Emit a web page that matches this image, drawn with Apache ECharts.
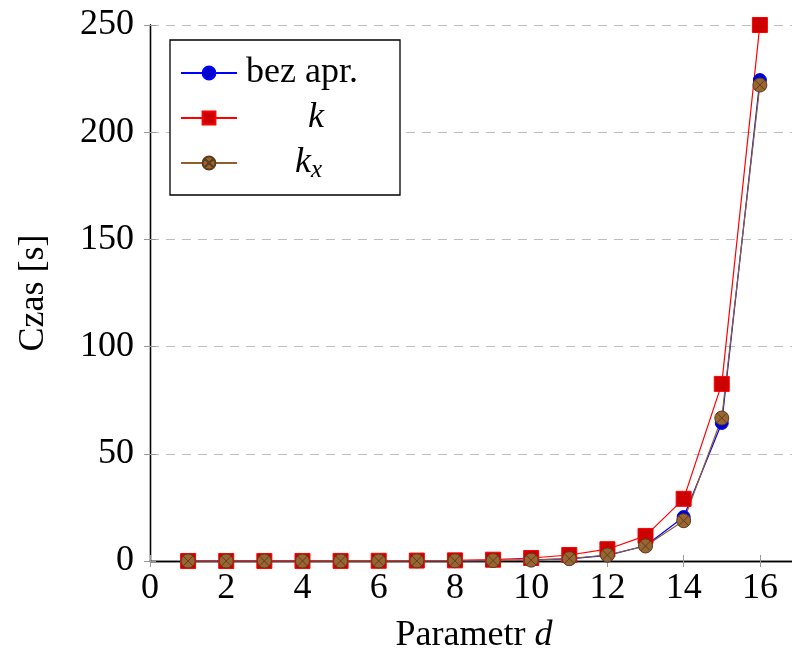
<!DOCTYPE html>
<html>
<head>
<meta charset="utf-8">
<script src="https://cdn.jsdelivr.net/npm/echarts@6/dist/echarts.min.js"></script>
<style>
  html, body { margin: 0; padding: 0; background: #fff; }
  #chart { width: 792px; height: 656px; }
</style>
</head>
<body>
<div id="chart"></div>
<script>
var dom = document.getElementById("chart");
var myChart;

// parametr d
var params = [1, 2, 3, 4, 5, 6, 7, 8, 9, 10, 11, 12, 13, 14, 15, 16];
// czas [s]
var bezApr = [0.01, 0.01, 0.01, 0.01, 0.01, 0.02, 0.05, 0.1, 0.2, 0.5, 1.0, 2.6, 7.1, 20.5, 64.4, 224.3];
var kVals  = [0.01, 0.01, 0.02, 0.03, 0.05, 0.1, 0.2, 0.3, 0.6, 1.4, 2.8, 5.5, 11.7, 29.0, 82.6, 250.0];
var kxVals = [0.01, 0.01, 0.01, 0.01, 0.02, 0.03, 0.06, 0.1, 0.2, 0.4, 1.1, 2.8, 7.0, 18.8, 66.7, 222.0];
var xTicks = [0, 2, 4, 6, 8, 10, 12, 14, 16];
var yTicks = [0, 50, 100, 150, 200, 250];

var serif = "'Liberation Serif', 'DejaVu Serif', serif";
var otimes = 'path://M0,10A10,10,0,1,1,20,10A10,10,0,1,1,0,10ZM2.93,2.93L17.07,17.07M17.07,2.93L2.93,17.07';

function pairs(ys) {
    return params.map(function (x, i) { return [x, ys[i]]; });
}

function initChart() {
    var option = {
        backgroundColor: '#ffffff',
        animation: false,
        grid: { left: 150, right: -6, top: 25, bottom: 95, outerBoundsMode: 'none', containLabel: false },
        legend: {
            orient: 'vertical',
            left: 170,
            top: 40,
            padding: [15, 10, 12, 10],
            itemGap: 9,
            itemWidth: 56,
            itemHeight: 16,
            borderColor: '#000',
            borderWidth: 1.3,
            backgroundColor: '#fff',
            textStyle: {
                fontFamily: serif,
                fontSize: 36,
                color: '#000',
                rich: {
                    t: { fontFamily: serif, fontSize: 36, lineHeight: 36, width: 144, align: 'left', padding: [0, 0, 0, 4] },
                    ti: { fontFamily: serif, fontSize: 36, lineHeight: 36, width: 148, align: 'center', fontStyle: 'italic' },
                    padl: { width: 53, lineHeight: 36 },
                    padr: { width: 61, lineHeight: 36 },
                    i: { fontFamily: serif, fontSize: 36, lineHeight: 36, fontStyle: 'italic' },
                    sub: { fontFamily: serif, fontSize: 25, fontStyle: 'italic', padding: [15, 0, 0, 0] }
                }
            },
            formatter: function (name) {
                if (name === 'k') return '{ti|k}';
                if (name === 'kx') return '{padl|}{i|k}{sub|x}{padr|}';
                return '{t|' + name + '}';
            },
            data: ['bez apr.', 'k', 'kx']
        },
        xAxis: [{
            type: 'value',
            min: 0,
            max: 17,
            interval: 2,
            name: 'Parametr {i|d}',
            nameLocation: 'middle',
            nameGap: 57,
            nameTextStyle: {
                fontFamily: serif, fontSize: 36, color: '#000',
                rich: { i: { fontFamily: serif, fontSize: 36, fontStyle: 'italic', color: '#000' } }
            },
            axisLine: { lineStyle: { color: '#000', width: 1.3 } },
            axisTick: { inside: true, length: 6, lineStyle: { color: '#999', width: 1 } },
            axisLabel: {
                fontFamily: serif, fontSize: 36, color: '#000', margin: 10,
                formatter: function (v) { return xTicks.indexOf(v) >= 0 ? String(v) : ''; }
            },
            splitLine: { show: false }
        }, {
            type: 'value',
            position: 'top',
            min: 0,
            max: 17,
            interval: 2,
            axisLine: { show: true, lineStyle: { color: '#000', width: 1.3 } },
            axisTick: { inside: true, length: 6, lineStyle: { color: '#999', width: 1 } },
            axisLabel: { show: false },
            splitLine: { show: false }
        }],
        yAxis: [{
            type: 'value',
            min: 0,
            max: 250,
            interval: 50,
            name: 'Czas [s]',
            nameLocation: 'middle',
            nameRotate: 90,
            nameGap: 98,
            nameTextStyle: { fontFamily: serif, fontSize: 36, color: '#000' },
            axisLine: { show: true, lineStyle: { color: '#000', width: 1.3 } },
            axisTick: { inside: true, length: 6, lineStyle: { color: '#999', width: 1 } },
            axisLabel: {
                fontFamily: serif, fontSize: 36, color: '#000', margin: 16,
                formatter: function (v) { return yTicks.indexOf(v) >= 0 ? String(v) : ''; }
            },
            splitLine: { show: true, lineStyle: { color: '#bdbdbd', width: 1, type: [9, 7] } }
        }, {
            type: 'value',
            position: 'right',
            min: 0,
            max: 250,
            interval: 50,
            axisLine: { show: true, lineStyle: { color: '#000', width: 1.3 } },
            axisTick: { inside: true, length: 6, lineStyle: { color: '#999', width: 1 } },
            axisLabel: { show: false },
            splitLine: { show: false }
        }],
        series: [
            {
                name: 'bez apr.',
                type: 'line',
                data: pairs(bezApr),
                clip: false,
                symbol: 'circle',
                symbolSize: 13,
                lineStyle: { color: '#0000ff', width: 1.2 },
                itemStyle: { color: '#0000cc', borderColor: '#0000ff', borderWidth: 1 }
            },
            {
                name: 'k',
                type: 'line',
                data: pairs(kVals),
                clip: false,
                symbol: 'rect',
                symbolSize: 15,
                lineStyle: { color: '#ff0000', width: 1.2 },
                itemStyle: { color: '#cc0000', borderColor: '#ff0000', borderWidth: 1 }
            },
            {
                name: 'kx',
                type: 'line',
                data: pairs(kxVals),
                clip: false,
                symbol: otimes,
                symbolSize: 14,
                lineStyle: { color: '#8f5f30', width: 1.2 },
                itemStyle: { color: '#996633', borderColor: '#5e3d1c', borderWidth: 1 }
            }
        ]
    };

    myChart = echarts.init(dom);
    myChart.setOption(option, true);
}

initChart();
</script>
</body>
</html>
